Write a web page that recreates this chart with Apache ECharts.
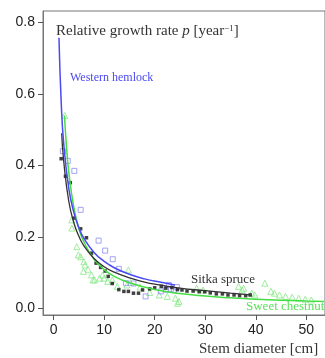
<!DOCTYPE html>
<html>
<head>
<meta charset="utf-8">
<script src="https://cdn.jsdelivr.net/npm/echarts@6/dist/echarts.min.js"></script>
<style>
  html, body { margin: 0; padding: 0; background: #fff; }
  #chart { width: 325px; height: 358px; }
</style>
</head>
<body>
<div id="chart"></div>
<script>
// fitted curves
const hemlockCurveX = [1.06, 1.5, 2, 3, 4, 5, 6, 8, 10, 12, 15, 18, 21, 24]
const hemlockCurveY = [0.757, 0.578, 0.461, 0.336, 0.269, 0.226, 0.196, 0.157, 0.132, 0.114, 0.096, 0.083, 0.074, 0.066]
const spruceCurveX = [1.6, 2, 3, 4, 5, 6, 8, 10, 12, 15, 18, 21, 25, 30, 35, 39]
const spruceCurveY = [0.49, 0.412, 0.3, 0.24, 0.202, 0.175, 0.14, 0.117, 0.102, 0.086, 0.074, 0.066, 0.057, 0.05, 0.043, 0.038]
const chestnutCurveX = [2.15, 2.5, 3, 4, 5, 6, 8, 10, 12, 15, 20, 25, 30, 35, 40, 45, 50, 53.5]
const chestnutCurveY = [0.54, 0.462, 0.382, 0.283, 0.224, 0.186, 0.138, 0.109, 0.09, 0.072, 0.053, 0.042, 0.035, 0.03, 0.026, 0.023, 0.021, 0.02]

// observations
const hemlockX = [1.83, 2.8, 4.1, 5.35, 8.9, 10.2, 11.7, 12.9, 14.3, 15.8, 18.2, 21.2, 22.2, 23.2, 22.8, 23.8, 24.4]
const hemlockY = [0.44, 0.413, 0.385, 0.276, 0.19, 0.162, 0.138, 0.111, 0.071, 0.07, 0.034, 0.048, 0.053, 0.055, 0.066, 0.052, 0.06]
const spruceX = [1.5, 2.35, 3.3, 4.1, 5.35, 6.5, 7.5, 8.4, 9.3, 10.2, 10.8, 11.6, 12.9, 13.9, 14.8, 15.8, 16.8, 17.6, 19, 20, 21.3, 22.2, 23.4, 24.5, 25.4, 26.4, 27.6, 28.8, 29.9, 31, 32.2, 33.4, 34.5, 35.7, 36.8, 38, 38.9]
const spruceY = [0.419, 0.37, 0.352, 0.253, 0.223, 0.198, 0.155, 0.127, 0.115, 0.105, 0.09, 0.07, 0.053, 0.048, 0.048, 0.043, 0.043, 0.052, 0.055, 0.058, 0.062, 0.057, 0.059, 0.053, 0.052, 0.049, 0.049, 0.047, 0.047, 0.044, 0.041, 0.041, 0.038, 0.038, 0.036, 0.036, 0.038]
const chestnutX = [2.2, 3.6, 3.6, 4.6, 4.9, 5.35, 5.9, 6, 6.2, 6.8, 7.5, 7.8, 8.1, 9.1, 9.7, 10, 10.7, 11.6, 12.6, 14.5, 14.8, 15.2, 17.1, 19, 20.9, 22.5, 24.1, 24.5, 24.8, 28.3, 29.6, 36.6, 37.3, 37.6, 39.2, 39.8, 41.8, 43, 43.7, 44.7, 45.9, 47.2, 48.5, 49.8, 51]
const chestnutY = [0.54, 0.248, 0.225, 0.173, 0.15, 0.145, 0.104, 0.131, 0.122, 0.11, 0.094, 0.08, 0.08, 0.085, 0.094, 0.085, 0.076, 0.08, 0.062, 0.066, 0.108, 0.073, 0.06, 0.045, 0.038, 0.034, 0.029, 0.015, 0.02, 0.057, 0.052, 0.062, 0.052, 0.057, 0.043, 0.038, 0.071, 0.048, 0.043, 0.038, 0.034, 0.032, 0.029, 0.026, 0.024]

const xTicks = [0, 10, 20, 30, 40, 50]
const yTicks = [0, 0.2, 0.4, 0.6, 0.8]

const zip = (xs, ys) => xs.map((x, i) => [x, ys[i]])

const serif = 'Liberation Serif'
const chart = echarts.init(document.getElementById('chart'))
chart.setOption({
  animation: false,
  grid: { left: 43, top: 11, width: 290, height: 304, show: true, borderColor: '#777', borderWidth: 1 },
  title: {
    left: 51, top: 19,
    text: '{a|Relative growth rate }{i|p}{a| [year}{s|−1}{a|]}',
    textStyle: {
      fontWeight: 'normal',
      rich: {
        a: { fontFamily: serif, fontSize: 15, fontWeight: 'normal', color: '#333' },
        i: { fontFamily: serif, fontSize: 15, fontWeight: 'normal', fontStyle: 'italic', color: '#333' },
        s: { fontFamily: serif, fontSize: 9, fontWeight: 'normal', color: '#333', verticalAlign: 'top', padding: [0, 0, 6, 0] }
      }
    }
  },
  graphic: [
    { type: 'text', left: 70, top: 72, style: { text: 'Western hemlock', font: '12px "Liberation Serif"', fill: '#4a4af0' } },
    { type: 'text', left: 191, top: 273, style: { text: 'Sitka spruce', font: '13px "Liberation Serif"', fill: '#333' } },
    { type: 'text', left: 246, top: 300, style: { text: 'Sweet chestnut', font: '13px "Liberation Serif"', fill: '#5be05b' } },
    { type: 'text', left: 199, top: 342, style: { text: 'Stem diameter [cm]', font: '15px "Liberation Serif"', fill: '#333' } }
  ],
  xAxis: {
    type: 'value', min: -2.1, max: 53.7,
    splitLine: { show: false },
    axisLine: { show: true, onZero: false, lineStyle: { color: '#777' } },
    axisTick: { show: true, length: 5, customValues: xTicks, lineStyle: { color: '#555' } },
    axisLabel: { customValues: xTicks, margin: 8, fontFamily: 'Liberation Sans', fontSize: 14, color: '#222' }
  },
  yAxis: {
    type: 'value', min: -0.018, max: 0.832,
    splitLine: { show: false },
    axisLine: { show: true, onZero: false, lineStyle: { color: '#777' } },
    axisTick: { show: true, length: 5, customValues: yTicks, lineStyle: { color: '#555' } },
    axisLabel: { customValues: yTicks, margin: 8, fontFamily: 'Liberation Sans', fontSize: 14, color: '#222',
      formatter: v => v.toFixed(1) }
  },
  series: [
    {
      type: 'scatter', data: zip(chestnutX, chestnutY), symbol: 'triangle', symbolSize: 6,
      itemStyle: { color: 'transparent', borderColor: '#86e886', borderWidth: 1 }
    },
    {
      type: 'scatter', data: zip(hemlockX, hemlockY), symbol: 'rect', symbolSize: 5,
      itemStyle: { color: 'transparent', borderColor: '#8c8cf2', borderWidth: 1 }
    },
    {
      type: 'scatter', data: zip(spruceX, spruceY), symbol: 'rect', symbolSize: 3.5,
      itemStyle: { color: '#111' }
    },
    {
      type: 'line', data: zip(chestnutCurveX, chestnutCurveY), smooth: true, showSymbol: false,
      lineStyle: { color: '#44dd44', width: 1.5 }
    },
    {
      type: 'line', data: zip(spruceCurveX, spruceCurveY), smooth: true, showSymbol: false,
      lineStyle: { color: '#333', width: 1.3 }
    },
    {
      type: 'line', data: zip(hemlockCurveX, hemlockCurveY), smooth: true, showSymbol: false,
      lineStyle: { color: '#4a4af5', width: 1.5 }
    }
  ]
})
</script>
</body>
</html>
